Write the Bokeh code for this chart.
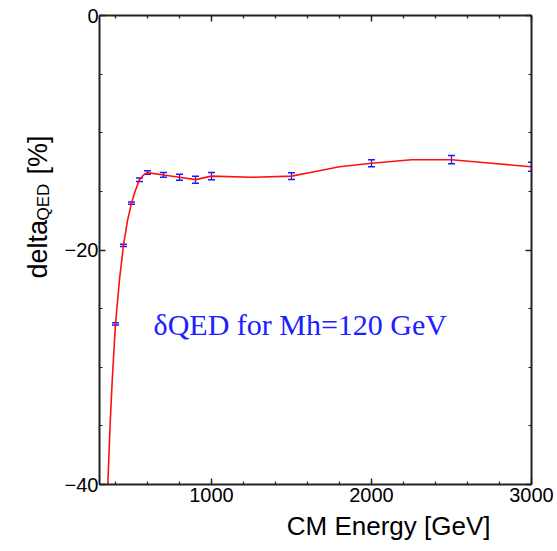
import math
from bokeh.plotting import figure
from bokeh.layouts import row
from bokeh.models import (FixedTicker, LinearAxis, Range1d, Label, Whisker,
                          ColumnDataSource, TeeHead, Title)
from bokeh.embed import file_html
from bokeh.resources import INLINE

# ---- data ----
energy = [400, 450, 500, 550, 600, 700, 800, 900, 1000, 1500, 2000, 2500, 3000]
delta = [-26.3, -19.6, -16.0, -14.0, -13.4, -13.6, -13.8, -14.0, -13.7, -13.7, -12.6, -12.3, -12.9]
err = [0.1, 0.1, 0.1, 0.15, 0.15, 0.2, 0.25, 0.3, 0.3, 0.28, 0.3, 0.35, 0.38]

curve_x = [352, 366, 380, 400, 425, 450, 475, 500, 525, 550, 575, 600, 700, 800, 900,
           1000, 1250, 1500, 1650, 1800, 2000, 2250, 2500, 2750, 3000]
curve_y = [-40.0, -35.0, -31.0, -26.3, -22.5, -19.6, -17.5, -16.0, -14.9, -14.0, -13.6, -13.4,
           -13.6, -13.8, -14.0, -13.7, -13.8, -13.7, -13.3, -12.9, -12.6, -12.3, -12.3, -12.6, -12.9]

x_major = [1000, 2000, 3000]
x_minor = list(range(400, 3001, 200))
y_major = [-40, -20, 0]
y_minor = list(range(-40, 1, 5))
y_tick_labels = {-40: "\u221240", -20: "\u221220", 0: "0"}

YLAB_W = 60
FRAME_H = 469
TOP = 15

p = figure(frame_width=432, frame_height=FRAME_H, x_range=Range1d(300, 3000), y_range=Range1d(-40, 0),
           output_backend="svg", toolbar_location=None,
           min_border_left=99 - YLAB_W, min_border_right=26, min_border_top=TOP,
           min_border_bottom=40)
p.outline_line_color = None
p.grid.visible = False
p.background_fill_color = "white"
p.border_fill_color = "white"

xt = FixedTicker(ticks=x_major, minor_ticks=x_minor)
yt = FixedTicker(ticks=y_major, minor_ticks=y_minor)

AX_COL = "#222222"

def style(ax, show_labels):
    ax.axis_line_color = AX_COL
    ax.axis_line_width = 2
    ax.major_tick_line_color = AX_COL
    ax.minor_tick_line_color = AX_COL
    ax.major_tick_in = 6
    ax.major_tick_out = 0
    ax.minor_tick_in = 3
    ax.minor_tick_out = 0
    ax.major_tick_line_width = 1.4
    ax.minor_tick_line_width = 1.2
    if show_labels:
        ax.major_label_text_font = "Liberation Sans"
        ax.major_label_text_font_size = "20px"
        ax.major_label_text_color = "black"
        ax.major_label_standoff = 3
    else:
        ax.major_label_text_font_size = "1px"
        ax.major_label_text_color = None
        ax.major_label_standoff = 0

p.xaxis.ticker = xt
p.yaxis.ticker = yt
style(p.xaxis[0], True)
style(p.yaxis[0], True)
p.yaxis[0].major_label_overrides = y_tick_labels
p.yaxis[0].major_label_standoff = 1
p.yaxis[0].major_label_orientation = "horizontal"

top = LinearAxis(ticker=xt)
right = LinearAxis(ticker=yt)
style(top, False)
style(right, False)
p.add_layout(top, "above")
p.add_layout(right, "right")

# x axis title
p.add_layout(Title(text="CM Energy [GeV]", align="right", offset=41,
                   text_font="Liberation Sans", text_font_size="26px",
                   text_font_style="normal", text_color="black", standoff=9), "below")

# curve
p.line(curve_x, curve_y, line_color="#ff1010", line_width=1.6)

# error bars
src = ColumnDataSource(dict(x=energy, y=delta,
                            lo=[d - e for d, e in zip(delta, err)],
                            hi=[d + e for d, e in zip(delta, err)]))
wh = Whisker(base="x", lower="lo", upper="hi", source=src, line_color="#1a1aff", line_width=1.3,
             lower_head=TeeHead(size=7, line_color="#1a1aff", line_width=1.5),
             upper_head=TeeHead(size=7, line_color="#1a1aff", line_width=1.5))
p.add_layout(wh)

# in-plot text
p.add_layout(Label(x=54, y=160, x_units="screen", y_units="screen",
                   text="\u03b4QED for Mh=120 GeV", text_font="Liberation Serif",
                   text_font_size="30px", text_font_style="normal", text_color="#2020ff",
                   text_align="left", text_baseline="alphabetic"))

# y axis title strip (rotated text with subscript); its frame is aligned with p's frame
ylab = figure(frame_width=YLAB_W, frame_height=FRAME_H, x_range=Range1d(0, 1), y_range=Range1d(0, 1),
              x_axis_type=None, y_axis_type=None, output_backend="svg",
              toolbar_location=None, min_border=0, min_border_top=TOP)
ylab.outline_line_color = None
ylab.grid.visible = False
ang = math.pi / 2
FB = TOP + FRAME_H  # frame bottom in page pixels
ylab.add_layout(Label(x=37, y=FB - 278, x_units="screen", y_units="screen", angle=ang,
                      text="delta", text_font="Liberation Sans", text_font_size="27px",
                      text_font_style="normal",
                      text_color="black", text_align="left", text_baseline="alphabetic"))
ylab.add_layout(Label(x=43, y=FB - 220, x_units="screen", y_units="screen", angle=ang,
                      text="QED", text_font="Liberation Sans", text_font_size="17px",
                      text_font_style="normal",
                      text_color="black", text_align="left", text_baseline="alphabetic"))
ylab.add_layout(Label(x=37, y=FB - 174, x_units="screen", y_units="screen", angle=ang,
                      text="[%]", text_font="Liberation Sans", text_font_size="27px",
                      text_font_style="normal",
                      text_color="black", text_align="left", text_baseline="alphabetic"))

layout = row(ylab, p)
open("out.html", "w").write(file_html(layout, INLINE))
